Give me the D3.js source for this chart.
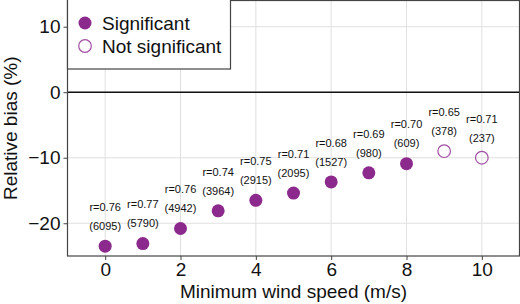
<!DOCTYPE html>
<html>
<head>
<meta charset="utf-8">
<script src="https://cdn.jsdelivr.net/npm/d3@7"></script>
<style>
  body { margin: 0; background: #fff; }
  svg text { font-family: "Liberation Sans", Arial, Helvetica, sans-serif; }
</style>
</head>
<body>
<div id="chart"></div>
<script>
// Values
const windSpeeds = [0, 1, 2, 3, 4, 5, 6, 7, 8, 9, 10];
const relBias = [-23.5, -23.1, -20.8, -18.1, -16.5, -15.4, -13.7, -12.3, -10.9, -9.0, -10.0];
const rValues = ["0.76", "0.77", "0.76", "0.74", "0.75", "0.71", "0.68", "0.69", "0.70", "0.65", "0.71"];
const counts = [6095, 5790, 4942, 3964, 2915, 2095, 1527, 980, 609, 378, 237];
const significant = [true, true, true, true, true, true, true, true, true, false, false];
const xTicks = [0, 2, 4, 6, 8, 10];
const yTicks = [-20, -10, 0, 10];
const legendLabels = ["Significant", "Not significant"];

const w = 520, h = 304;
const purple = "#8b2a8c";

const rows = windSpeeds.map((x, i) => ({
  x: x, y: relBias[i], r: rValues[i], n: counts[i], sig: significant[i]
}));

const svg = d3.select("#chart")
  .append("svg")
  .attr("width", w)
  .attr("height", h);

// Scales: panel spans the whole area right of the y axis
const xScale = d3.scaleLinear()
  .domain([-1, 11])
  .range([67.5, 519.5]);

const yScale = d3.scaleLinear()
  .domain([-25, 14])
  .range([256, 0.5]);

// Grid lines
svg.append("g")
  .selectAll("line")
  .data(xTicks)
  .enter().append("line")
  .attr("x1", d => xScale(d)).attr("x2", d => xScale(d))
  .attr("y1", yScale.range()[0]).attr("y2", yScale.range()[1])
  .style("stroke", "#e0e0e0");

svg.append("g")
  .selectAll("line")
  .data(yTicks)
  .enter().append("line")
  .attr("x1", xScale.range()[0]).attr("x2", xScale.range()[1])
  .attr("y1", d => yScale(d)).attr("y2", d => yScale(d))
  .style("stroke", "#e0e0e0");

// Zero line
svg.append("line")
  .attr("x1", xScale.range()[0]).attr("x2", xScale.range()[1])
  .attr("y1", yScale(0)).attr("y2", yScale(0))
  .style("stroke", "#111")
  .style("stroke-width", 1.5);

// Axes
let xAxis = svg.append("g")
  .attr("transform", `translate(0, ${yScale.range()[0]})`)
  .call(d3.axisBottom(xScale).tickValues(xTicks).tickSize(4).tickPadding(3));

let yAxis = svg.append("g")
  .attr("transform", `translate(${xScale.range()[0]}, 0)`)
  .call(d3.axisLeft(yScale).tickValues(yTicks).tickSize(4).tickPadding(3));

[xAxis, yAxis].forEach(ax => {
  ax.select(".domain").remove();
  ax.selectAll(".tick line").style("stroke", "#444");
  ax.selectAll(".tick text")
    .style("font-size", "19px")
    .style("fill", "#111");
});

// Panel border
svg.append("rect")
  .attr("x", xScale.range()[0]).attr("y", yScale.range()[1])
  .attr("width", xScale.range()[1] - xScale.range()[0])
  .attr("height", yScale.range()[0] - yScale.range()[1])
  .style("fill", "none")
  .style("stroke", "#444")
  .style("stroke-width", 1.2);

// Points
svg.append("g")
  .selectAll("circle")
  .data(rows)
  .enter().append("circle")
  .attr("cx", d => xScale(d.x))
  .attr("cy", d => yScale(d.y))
  .attr("r", d => d.sig ? 6.5 : 6.3)
  .style("fill", d => d.sig ? purple : "none")
  .style("stroke", d => d.sig ? "none" : "#a14fa3")
  .style("stroke-width", 1.2);

// Labels above each point: correlation and sample count
let labels = svg.append("g")
  .style("font-size", "11px")
  .style("fill", "#111")
  .attr("text-anchor", "middle");

labels.selectAll(".r-label")
  .data(rows)
  .enter().append("text")
  .attr("class", "r-label")
  .attr("x", d => xScale(d.x))
  .attr("y", d => yScale(d.y) - 39)
  .attr("dy", "0.35em")
  .text(d => "r=" + d.r);

labels.selectAll(".n-label")
  .data(rows)
  .enter().append("text")
  .attr("class", "n-label")
  .attr("x", d => xScale(d.x))
  .attr("y", d => yScale(d.y) - 20)
  .attr("dy", "0.35em")
  .text(d => "(" + d.n + ")");

// Axis titles
svg.append("text")
  .attr("x", (xScale.range()[0] + xScale.range()[1]) / 2)
  .attr("y", 298)
  .attr("text-anchor", "middle")
  .style("font-size", "19px")
  .style("fill", "#111")
  .text("Minimum wind speed (m/s)");

svg.append("text")
  .attr("transform", `translate(17, ${(yScale.range()[0] + yScale.range()[1]) / 2}) rotate(-90)`)
  .attr("text-anchor", "middle")
  .style("font-size", "19px")
  .style("fill", "#111")
  .text("Relative bias (%)");

// Legend box in the top left corner
let legend = svg.append("g");

legend.append("rect")
  .attr("x", xScale.range()[0]).attr("y", -1)
  .attr("width", 163).attr("height", 70)
  .style("fill", "#fff")
  .style("stroke", "#444")
  .style("stroke-width", 1.2);

let items = legend.selectAll(".item")
  .data(legendLabels)
  .enter().append("g")
  .attr("class", "item")
  .attr("transform", (d, i) => `translate(85, ${23 + i * 23})`);

items.append("circle")
  .attr("r", (d, i) => i === 0 ? 6.5 : 6.3)
  .style("fill", (d, i) => i === 0 ? purple : "none")
  .style("stroke", (d, i) => i === 0 ? "none" : "#a14fa3")
  .style("stroke-width", 1.2);

items.append("text")
  .attr("x", 17)
  .attr("dy", "0.35em")
  .style("font-size", "19px")
  .style("fill", "#111")
  .text(d => d);
</script>
</body>
</html>
